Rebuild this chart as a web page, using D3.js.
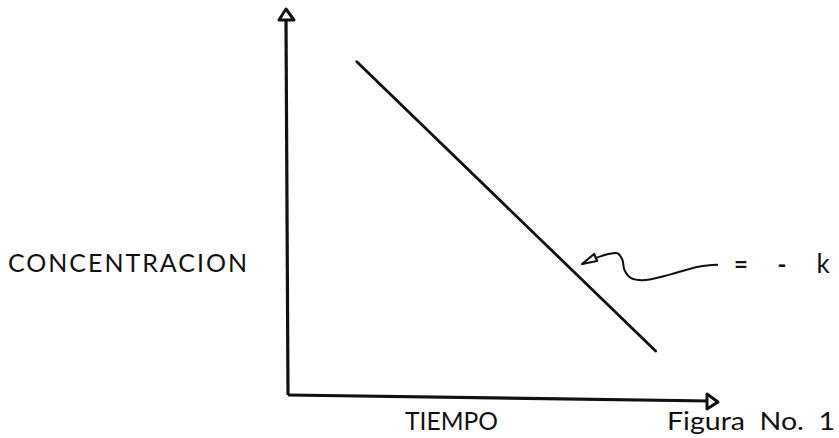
<!DOCTYPE html>
<html>
<head>
<meta charset="utf-8">
<script src="https://cdn.jsdelivr.net/npm/d3@7"></script>
<style>
  html, body { margin: 0; padding: 0; background: #fff; }
  svg { display: block; }
  text { font-family: Lato, "Noto Sans", sans-serif; fill: #111; }
</style>
</head>
<body>
<svg id="chart" width="839" height="438"></svg>
<script>
// datos (unidades arbitrarias)
const tiempo = [1.6, 8.55];
const concentracion = [8.7, 1.15];
const xLabel = "TIEMPO";
const yLabel = "CONCENTRACION";
const pendiente = ["=", "-", "k"];
const caption = "Figura  No.  1";
// flecha ondulada (en unidades de datos)
const curlT = [6.84, 7.1, 7.45, 7.66, 7.77, 7.83, 7.98, 8.3, 8.9, 9.55, 10.0];
const curlC = [3.42, 3.55, 3.68, 3.7, 3.55, 3.25, 3.05, 3.0, 3.15, 3.35, 3.4];

let svg = d3.select("#chart");

let x = d3.scaleLinear().domain([0, 10]).range([288, 718]);
let y = d3.scaleLinear().domain([0, 10]).range([395, 12]);

// ejes
svg.append("path")
  .attr("d", `M${x(0)},${y(0)} L${x(0) - 2},${y(10) + 8}`)
  .attr("stroke", "#111").attr("stroke-width", 3.2).attr("fill", "none");
svg.append("path")
  .attr("d", `M${x(0)},${y(0)} L${x(10) - 8},${y(0) + 6}`)
  .attr("stroke", "#111").attr("stroke-width", 3.2).attr("fill", "none");

// puntas de flecha de los ejes
svg.append("path")
  .attr("d", `M${x(0) - 2},${y(10) - 3} L${x(0) + 6},${y(10) + 8} L${x(0) - 9},${y(10) + 8} Z`)
  .attr("stroke", "#111").attr("stroke-width", 3).attr("fill", "#fff").attr("stroke-linejoin", "round");
svg.append("path")
  .attr("d", `M${x(10)},${y(0) + 7} L${x(10) - 11},${y(0) + 14} L${x(10) - 11},${y(0) - 1} Z`)
  .attr("stroke", "#111").attr("stroke-width", 3).attr("fill", "#fff").attr("stroke-linejoin", "round");

// recta
let pts = tiempo.map((t, i) => [x(t), y(concentracion[i])]);
svg.append("path")
  .attr("d", d3.line()(pts))
  .attr("stroke", "#111").attr("stroke-width", 2.8).attr("fill", "none").attr("stroke-linecap", "round");

// flecha ondulada
let curl = curlT.map((t, i) => [x(t), y(curlC[i])]);
svg.append("path")
  .attr("d", d3.line().curve(d3.curveCatmullRom)(curl))
  .attr("stroke", "#111").attr("stroke-width", 2).attr("fill", "none");
let tip = curl[0];
svg.append("path")
  .attr("d", `M${tip[0]},${tip[1]} L${tip[0] + 12},${tip[1] - 10} L${tip[0] + 15},${tip[1] - 3} Z`)
  .attr("stroke", "#111").attr("stroke-width", 2.2).attr("fill", "#fff").attr("stroke-linejoin", "round");

// = - k
let end = curl[curl.length - 1];
let px = d3.scalePoint().domain(pendiente).range([end[0] + 23, end[0] + 105]);
svg.selectAll("text.pend")
  .data(pendiente)
  .enter()
  .append("text")
  .classed("pend", true)
  .attr("x", d => px(d))
  .attr("y", 273)
  .attr("text-anchor", "middle")
  .attr("font-size", d => d === "k" ? 26 : 24)
  .attr("font-weight", d => d === "k" ? "normal" : "bold")
  .text(d => d);

// textos
svg.append("text")
  .attr("x", 8).attr("y", 272)
  .attr("font-size", 25)
  .attr("textLength", 239).attr("lengthAdjust", "spacing")
  .text(yLabel);

svg.append("text")
  .attr("x", 405).attr("y", 430)
  .attr("font-size", 25)
  .attr("textLength", 93).attr("lengthAdjust", "spacingAndGlyphs")
  .text(xLabel);

svg.append("text")
  .attr("x", 667).attr("y", 430)
  .attr("font-size", 25)
  .attr("xml:space", "preserve")
  .attr("textLength", 168).attr("lengthAdjust", "spacingAndGlyphs")
  .text(caption);
</script>
</body>
</html>
